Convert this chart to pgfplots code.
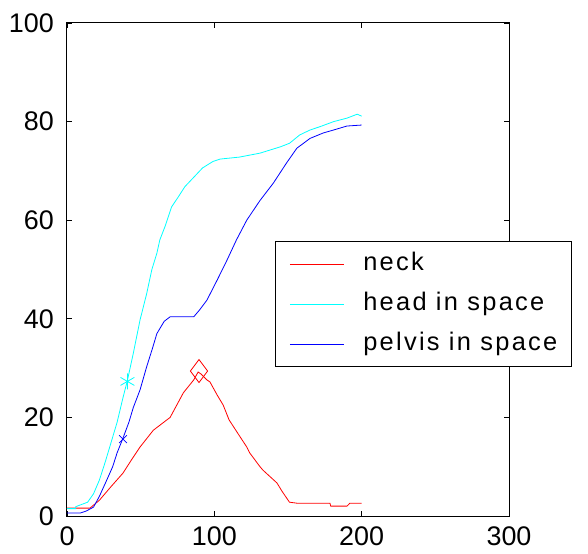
\documentclass[border=0pt]{standalone}
\usepackage{fontspec}
\setmainfont{Liberation Sans}
\usepackage{pgfplots}
\pgfplotsset{compat=1.18}
\usetikzlibrary{plotmarks}
\definecolor{mred}{RGB}{255,0,0}
\definecolor{mcyan}{RGB}{0,255,255}
\definecolor{mblue}{RGB}{0,0,255}
\begin{document}
\begin{tikzpicture}
\begin{axis}[
  scale only axis, width=442bp, height=493bp,
  xmin=0, xmax=300, ymin=0, ymax=100,
  xtick={0,100,200,300}, ytick={0,20,40,60,80,100},
  tick align=inside, major tick length=5bp,
  tick style={black, line width=0.8bp},
  axis line style={black, line width=1bp},
  /pgf/number format/assume math mode=true,
  tick label style={font=\fontsize{27}{27}\selectfont, inner sep=0pt},
  yticklabel style={xshift=-13bp},
  xticklabel style={yshift=-11bp},
  legend cell align=left,
  legend image code/.code={\draw[#1, line width=0.8bp] (0bp,0bp) -- (54bp,0bp);},
  legend style={draw=black, line width=1bp, at={(0.4706,0.5578)}, anchor=north west,
    font=\fontsize{25.5}{28}\selectfont\addfontfeatures{LetterSpace=9},
    inner xsep=14bp, inner ysep=10bp, row sep=15bp,
    nodes={inner sep=0pt, text height=19bp, text depth=6bp},
    /tikz/every odd column/.append style={column sep=19bp}},
]
\coordinate (sw) at (rel axis cs:0,0);
\addplot[mred, line width=0.8bp] coordinates {
(0,1.6)(15.6,1.6)(22,3.2)(30,6)(38,8.7)(44,11.5)(49.6,14)(58.6,17.4)(70,20)(79,25)(86,27.6)(89,29.2)(91,28.8)(95,27.6)(97,27.2)(102,24.5)(106,22.5)(110,19.5)(115,17.2)(122,14)(124,12.8)(131,10)(133,9.3)(142.5,6.7)(146,5)(151,2.8)(156,2.6)(178.5,2.6)(179,2)(190,2)(192,2.6)(200,2.6)
};
\addlegendentry{neck}
\addplot[mcyan, line width=0.8bp] coordinates {
(0,1.5)(6,1.5)(6,1.9)(14,2.8)(18,4.5)(22,7.3)(26,11)(29,14)(34,19)(38,24)(41,27.5)(45,33)(49.6,39.8)(54,45)(57.6,50)(61,53.3)(63,56)(66.5,58.7)(71,62.7)(75.5,64.7)(80,66.8)(85.7,68.6)(92,70.6)(99,71.9)(104,72.4)(117,72.8)(124,73.2)(131,73.6)(145,74.9)(151,75.6)(158,77.3)(165,78.3)(172,79)(181,80)(190,80.7)(197,81.5)(200,81.1)
};
\addlegendentry{head in space}
\addplot[mblue, line width=0.8bp] coordinates {
(0,0.6)(9,0.6)(13,1)(18,1.8)(22,4)(27,7.3)(31,10)(34,12.8)(38,15.8)(42,19)(45,22)(49.6,25.6)(54,30.2)(58,34)(61,37)(66,39.5)(70,40.4)(86,40.4)(90,41.8)(95,43.8)(102,47.9)(108.6,51.9)(115,56)(122,60)(131,64)(140,67.5)(149,71.6)(156,74.6)(165,76.6)(174,77.7)(181,78.3)(190,79.1)(200,79.3)
};
\addlegendentry{pelvis in space}
\addplot[mred, only marks, mark=diamond, mark size=11.5bp, mark options={line width=0.8bp}, forget plot] coordinates {(89.6,29.4)};
\addplot[mcyan, only marks, mark=asterisk, mark size=8bp, mark options={line width=0.8bp}, forget plot] coordinates {(41,27.3)};
\addplot[mblue, only marks, mark=x, mark size=5.5bp, mark options={line width=0.8bp}, forget plot] coordinates {(38,15.6)};
\end{axis}
\pgfresetboundingbox
\path (sw) ++(-67bp,-38bp) rectangle ++(588bp,554bp);
\end{tikzpicture}
\end{document}
